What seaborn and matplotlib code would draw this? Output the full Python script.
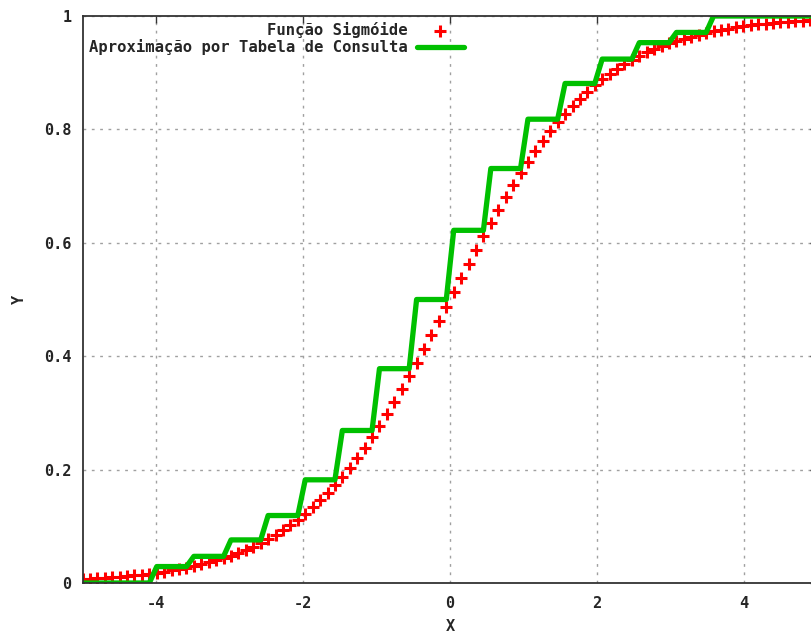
import numpy as np
import pandas as pd
import matplotlib
matplotlib.use("Agg")
import matplotlib.pyplot as plt
import seaborn as sns

# sample positions (gnuplot default 100 samples over [-5, 5])
x_samples = np.linspace(-5, 5, 100)

# sigmoid values (first half; second half is mirrored)
sig_first_half = [
    0.0067, 0.0074, 0.0082, 0.0090, 0.0100, 0.0110, 0.0122, 0.0135, 0.0149, 0.0165,
    0.0182, 0.0201, 0.0221, 0.0244, 0.0270, 0.0297, 0.0328, 0.0362, 0.0399, 0.0439,
    0.0483, 0.0532, 0.0585, 0.0643, 0.0705, 0.0776, 0.0852, 0.0934, 0.1023, 0.1119,
    0.1224, 0.1337, 0.1458, 0.1588, 0.1728, 0.1877, 0.2036, 0.2205, 0.2383, 0.2571,
    0.2769, 0.2975, 0.3191, 0.3414, 0.3645, 0.3882, 0.4124, 0.4371, 0.4621, 0.4874,
]
sig_values = sig_first_half + [round(1 - v, 4) for v in reversed(sig_first_half)]

# lookup table: breakpoints and levels
table_edges = [-4.0, -3.5, -3.0, -2.5, -2.0, -1.5, -1.0, -0.5, 0.0,
               0.5, 1.0, 1.5, 2.0, 2.5, 3.0, 3.5]
table_levels = [0.0, 0.029, 0.047, 0.076, 0.119, 0.182, 0.269, 0.378, 0.5,
                0.622, 0.731, 0.818, 0.881, 0.924, 0.953, 0.971, 1.0]

x_ticks = [-4, -2, 0, 2, 4]
y_ticks = [0, 0.2, 0.4, 0.6, 0.8, 1.0]
y_tick_labels = ["0", "0.2", "0.4", "0.6", "0.8", "1"]

lut_values = [table_levels[i] for i in np.digitize(x_samples, table_edges)]

df_sig = pd.DataFrame({"x": x_samples, "y": sig_values})
df_lut = pd.DataFrame({"x": x_samples, "y": lut_values})

sns.set_style("white")
plt.rcParams["font.family"] = ["DejaVu Sans Mono"]
plt.rcParams["font.weight"] = "bold"

fig = plt.figure(figsize=(8.11, 6.37), dpi=100)
ax = fig.add_axes([82.5 / 811, 54 / 637, 735 / 811, 567 / 637])

red = "#ff0000"
green = "#00c000"

sns.scatterplot(data=df_sig, x="x", y="y", ax=ax, marker="+", s=64,
                color=red, linewidth=2.2, zorder=3, label="Função Sigmóide")
sns.lineplot(data=df_lut, x="x", y="y", ax=ax, sort=False, estimator=None,
             color=green, linewidth=3.8, zorder=4,
             label="Aproximação por Tabela de Consulta")

ax.set_xlim(-5, 5)
ax.set_ylim(0, 1)
ax.set_xticks(x_ticks)
ax.set_xticklabels([str(t) for t in x_ticks])
ax.set_yticks(y_ticks)
ax.set_yticklabels(y_tick_labels)
ax.tick_params(axis="both", direction="in", length=5, width=1, color="#333333",
               labelsize=11, top=True, right=True)
ax.tick_params(axis="x", pad=9)
ax.tick_params(axis="y", pad=8)
for lab in ax.get_xticklabels() + ax.get_yticklabels():
    lab.set_fontweight("bold")

ax.grid(True, color="#a0a0a0", linestyle=(0, (2, 4)), linewidth=1)
for sp in ax.spines.values():
    sp.set_color("#333333")
    sp.set_linewidth(1.3)
    sp.set_visible(True)
    sp.set_zorder(5)

ax.set_xlabel("X", fontsize=11, fontweight="bold", labelpad=6)
ax.set_ylabel("Y", fontsize=11, fontweight="bold", labelpad=12)

leg = ax.legend(loc="upper right", bbox_to_anchor=(0.527, 1.0006), frameon=False,
                markerfirst=False, fontsize=11.2, handlelength=3.0,
                handletextpad=0.6, labelspacing=0.1, borderaxespad=0.0)
for t in leg.get_texts():
    t.set_ha("right")
    t.set_fontweight("bold")
leg._legend_box.align = "right"

fig.savefig("out.png", dpi=100)
